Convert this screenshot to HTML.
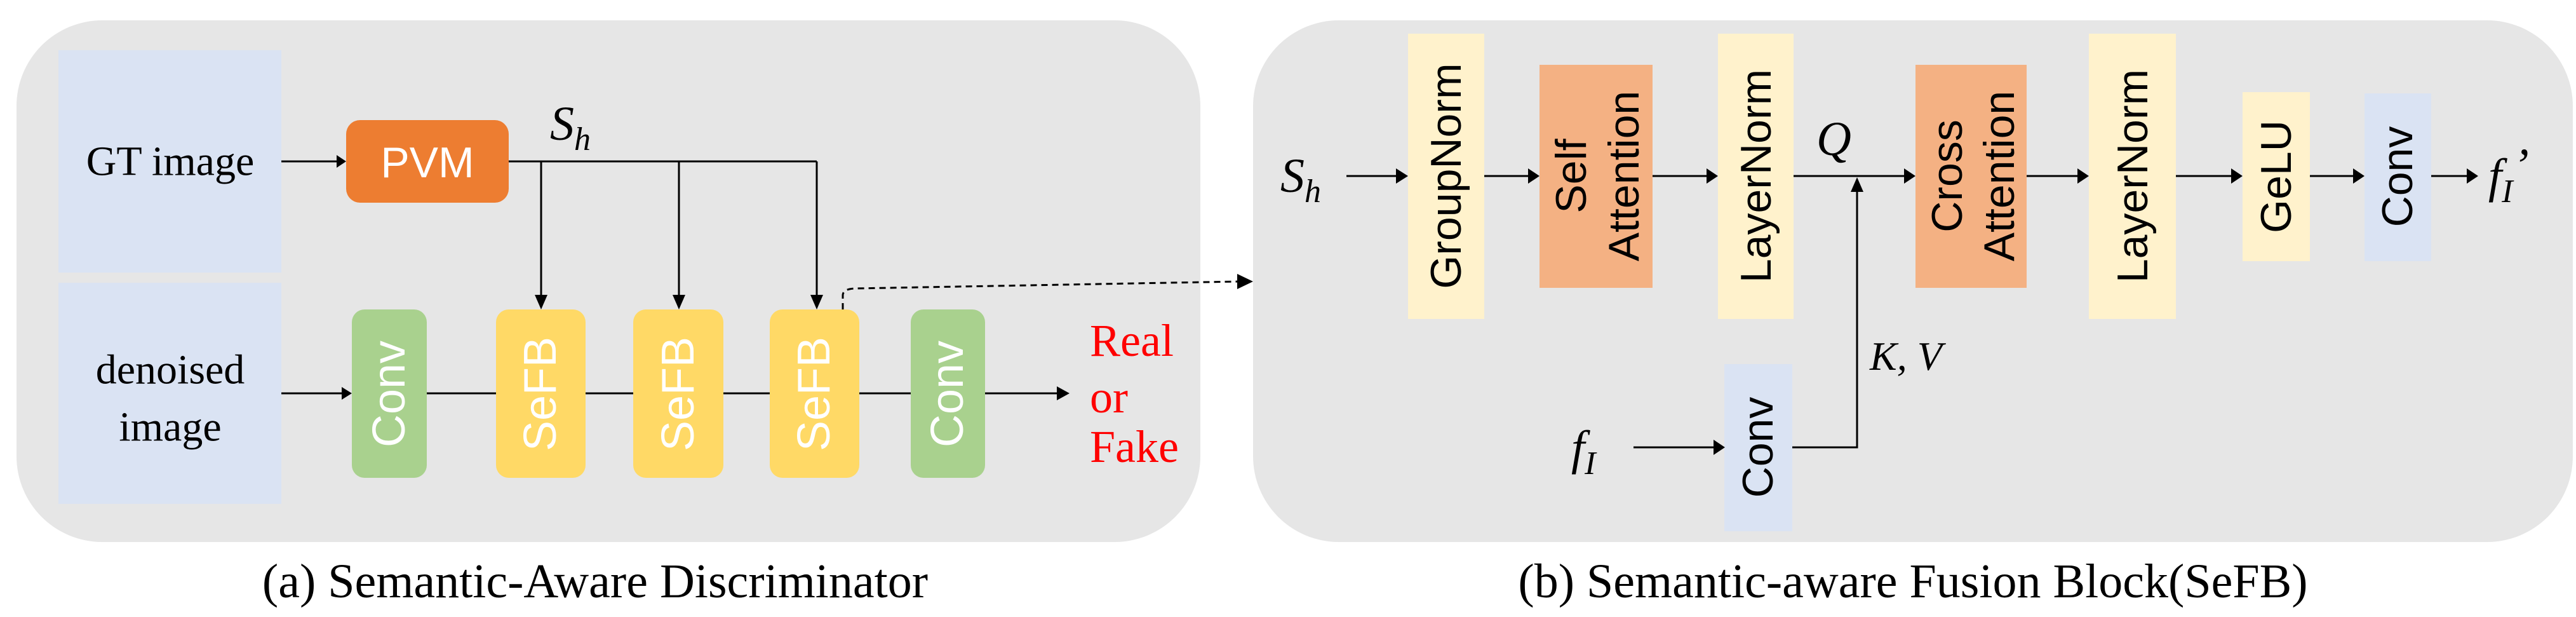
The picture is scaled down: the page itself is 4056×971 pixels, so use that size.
<!DOCTYPE html>
<html><head><meta charset="utf-8"><style>
html,body{margin:0;padding:0;background:#fff;}
svg{display:block;}
.s{font-family:"Liberation Serif",serif;}
.a{font-family:"Liberation Sans",sans-serif;}
</style></head><body>
<svg width="4056" height="971" viewBox="0 0 4056 971" xmlns="http://www.w3.org/2000/svg">
<!-- panels -->
<rect x="26" y="32" width="1864" height="821" rx="135" fill="#e6e6e6"/>
<rect x="1973" y="32" width="2078" height="821" rx="135" fill="#e6e6e6"/>

<!-- left panel -->
<rect x="92" y="79" width="351" height="350" fill="#dae3f3"/>
<rect x="92" y="445" width="351" height="348" fill="#dae3f3"/>
<text class="s" x="268" y="254" font-size="66" text-anchor="middle" dominant-baseline="central">GT image</text>
<text class="s" x="268" y="582" font-size="66" text-anchor="middle" dominant-baseline="central">denoised</text>
<text class="s" x="268" y="672" font-size="66" text-anchor="middle" dominant-baseline="central">image</text>

<rect x="545" y="189" width="256" height="130" rx="22" fill="#ed7d31"/>
<text class="a" x="673" y="256" font-size="68" fill="#fff" text-anchor="middle" dominant-baseline="central">PVM</text>

<g stroke="#000" stroke-width="3" fill="none">
<line x1="443" y1="254" x2="530" y2="254"/>
<polyline points="801,254 1286,254"/>
<line x1="852" y1="254" x2="852" y2="465"/>
<line x1="1069" y1="254" x2="1069" y2="465"/>
<line x1="1286" y1="254" x2="1286" y2="465"/>
<line x1="443" y1="619" x2="540" y2="619"/>
<line x1="672" y1="619" x2="781" y2="619"/>
<line x1="922" y1="619" x2="997" y2="619"/>
<line x1="1139" y1="619" x2="1212" y2="619"/>
<line x1="1353" y1="619" x2="1434" y2="619"/>
<line x1="1551" y1="619" x2="1665" y2="619"/>
<path d="M1327,487 L1327,465 Q1327,455 1345,454 L1950,443" stroke-dasharray="10,7"/>
</g>
<g fill="#000">
<polygon points="530,244 530,264 545,254"/>
<polygon points="842,464 862,464 852,487"/>
<polygon points="1059,464 1079,464 1069,487"/>
<polygon points="1276,464 1296,464 1286,487"/>
<polygon points="538,609 538,629 554,619"/>
<polygon points="1664,608 1664,630 1684,619"/>
<polygon points="1948,431 1948,455 1973,443"/>
</g>
<text class="s" x="866" y="220" font-size="76" font-style="italic">S<tspan font-size="52" dy="16">h</tspan></text>

<rect x="554" y="487" width="118" height="265" rx="20" fill="#a9d18e"/>
<rect x="781" y="487" width="141" height="265" rx="20" fill="#ffd966"/>
<rect x="997" y="487" width="142" height="265" rx="20" fill="#ffd966"/>
<rect x="1212" y="487" width="141" height="265" rx="20" fill="#ffd966"/>
<rect x="1434" y="487" width="117" height="265" rx="20" fill="#a9d18e"/>
<g class="a" font-size="72" fill="#fff" text-anchor="middle" dominant-baseline="central">
<text transform="translate(613,620) rotate(-90)">Conv</text>
<text transform="translate(851,620) rotate(-90)">SeFB</text>
<text transform="translate(1068,620) rotate(-90)">SeFB</text>
<text transform="translate(1282,620) rotate(-90)">SeFB</text>
<text transform="translate(1492,620) rotate(-90)">Conv</text>
</g>
<g class="s" font-size="72" fill="#ff0000" dominant-baseline="central">
<text x="1716" y="536">Real</text>
<text x="1716" y="625">or</text>
<text x="1716" y="703">Fake</text>
</g>
<text class="s" x="937" y="915" font-size="76" text-anchor="middle" dominant-baseline="central">(a) Semantic-Aware Discriminator</text>

<!-- right panel -->
<rect x="2217" y="53" width="120" height="449" fill="#fff2cc"/>
<rect x="2424" y="102" width="178" height="351" fill="#f4b183"/>
<rect x="2705" y="53" width="119" height="449" fill="#fff2cc"/>
<rect x="3016" y="102" width="175" height="351" fill="#f4b183"/>
<rect x="3289" y="53" width="137" height="449" fill="#fff2cc"/>
<rect x="3531" y="145" width="106" height="266" fill="#fff2cc"/>
<rect x="3723" y="147" width="105" height="264" fill="#dae3f3"/>
<rect x="2715" y="573" width="107" height="263" fill="#dae3f3"/>
<g class="a" font-size="68" fill="#000" text-anchor="middle" dominant-baseline="central">
<text transform="translate(2277,277) rotate(-90)">GroupNorm</text>
<text transform="translate(2474,277) rotate(-90)">Self</text>
<text transform="translate(2557,277) rotate(-90)">Attention</text>
<text transform="translate(2765,277) rotate(-90)">LayerNorm</text>
<text transform="translate(3066,277) rotate(-90)">Cross</text>
<text transform="translate(3148,277) rotate(-90)">Attention</text>
<text transform="translate(3358,277) rotate(-90)">LayerNorm</text>
<text transform="translate(3584,278) rotate(-90)">GeLU</text>
<text transform="translate(3775,278) rotate(-90)">Conv</text>
<text transform="translate(2768,704) rotate(-90)">Conv</text>
</g>
<g stroke="#000" stroke-width="3" fill="none">
<line x1="2120" y1="277" x2="2200" y2="277"/>
<line x1="2337" y1="277" x2="2408" y2="277"/>
<line x1="2602" y1="277" x2="2689" y2="277"/>
<line x1="2824" y1="277" x2="3000" y2="277"/>
<line x1="3191" y1="277" x2="3273" y2="277"/>
<line x1="3426" y1="277" x2="3515" y2="277"/>
<line x1="3637" y1="277" x2="3707" y2="277"/>
<line x1="3828" y1="277" x2="3886" y2="277"/>
<polyline points="2822,704 2924,704 2924,300"/>
<line x1="2572" y1="704" x2="2700" y2="704"/>
</g>
<g fill="#000">
<polygon points="2198,265 2198,289 2217,277"/>
<polygon points="2406,265 2406,289 2424,277"/>
<polygon points="2687,265 2687,289 2705,277"/>
<polygon points="2998,265 2998,289 3016,277"/>
<polygon points="3271,265 3271,289 3289,277"/>
<polygon points="3513,265 3513,289 3531,277"/>
<polygon points="3705,265 3705,289 3723,277"/>
<polygon points="3884,265 3884,289 3902,277"/>
<polygon points="2914,302 2934,302 2924,279"/>
<polygon points="2698,692 2698,716 2716,704"/>
</g>
<g class="s" font-style="italic" font-size="76">
<text x="2016" y="302">S<tspan font-size="52" dy="16">h</tspan></text>
<text x="2860" y="244">Q</text>
<text x="2944" y="582" font-size="64">K, V</text>
<text x="2474" y="730">f<tspan font-size="52" dy="16">I</tspan></text>
<text x="3918" y="302">f<tspan font-size="52" dy="16">I</tspan><tspan dy="-32">’</tspan></text>
</g>
<text class="s" x="3012" y="915" font-size="76" text-anchor="middle" dominant-baseline="central">(b) Semantic-aware Fusion Block(SeFB)</text>
</svg>
</body></html>
